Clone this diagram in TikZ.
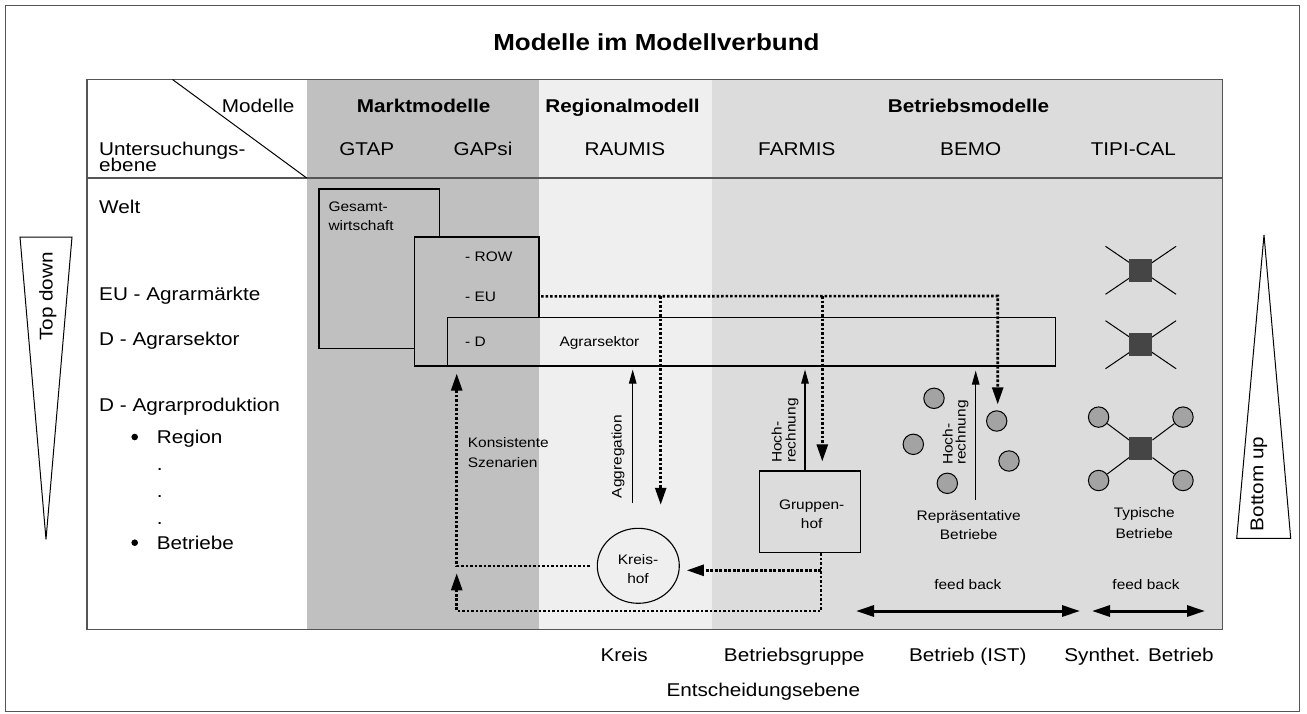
\documentclass[tikz,border=0pt]{standalone}
\usepackage{fontspec}
\setmainfont{Liberation Sans}[FakeStretch=1.12]
\usetikzlibrary{arrows.meta,shapes.geometric,calc}
\definecolor{mgray}{HTML}{C0C0C0}
\definecolor{lgray}{HTML}{EFEFEF}
\definecolor{bgray}{HTML}{DCDCDC}
\definecolor{dgray}{HTML}{454545}
\definecolor{cgray}{HTML}{A3A3A3}
\definecolor{fgray}{HTML}{555555}
\begin{document}
\begin{tikzpicture}[x=1pt,y=-1pt,
  lab/.style={inner sep=0pt, font=\fontsize{18.5}{18}\selectfont},
  sml/.style={inner sep=0pt, font=\fontsize{13.8}{16}\selectfont},
  hdr/.style={inner sep=0pt, font=\fontsize{18.5}{18}\selectfont\bfseries},
  ttl/.style={inner sep=0pt, font=\fontsize{23.2}{26}\selectfont\bfseries},
  mbox/.style={draw=black, line width=1.2pt, inner sep=0pt, rectangle},
  dotline/.style={line width=2.6pt, dash pattern=on 2.6pt off 1.9pt},
  dotarrow/.style={dotline, -{Triangle[length=17pt,width=11pt]}},
  solarrow/.style={line width=1.1pt, -{Triangle[length=14pt,width=7.5pt]}},
  fbarrow/.style={line width=3pt, {Triangle[length=18pt,width=11pt]}-{Triangle[length=18pt,width=11pt]}},
  farm/.style={circle, draw=black, line width=1pt, fill=cgray, minimum size=20.4pt, inner sep=0pt},
  sq/.style={rectangle, fill=dgray, minimum size=23pt, inner sep=0pt},
  thin/.style={line width=1pt}
]
\useasboundingbox (0,0) rectangle (1307,713);
% outer frame
\draw[line width=1.2pt, fgray] (5.5,5.5) rectangle (1299.5,711.5);
% table background
\fill[mgray] (306.7,79.5) rectangle (539,629.5);
\fill[lgray] (539,79.5) rectangle (711.7,629.5);
\fill[bgray] (711.7,79.5) rectangle (1222.3,629.5);
\draw[line width=1.5pt, fgray] (87,79.5) rectangle (1222.3,629.5);
\draw[line width=1.5pt, fgray] (87,178) -- (1222.3,178);
\draw[thin] (172.5,79.5) -- (306.7,178);
% title and headers
\node[ttl, anchor=base] (title) at (656.4,50.7) {Modelle im Modellverbund};
\node[lab, anchor=base east] (modelle) at (294.6,112.5) {Modelle};
\node[lab, anchor=base west] (unters) at (99,155) {Untersuchungs-};
\node[lab, anchor=base west] (ebene) at (99,171) {ebene};
\node[hdr, anchor=base] (markt) at (423.7,112.5) {Marktmodelle};
\node[hdr, anchor=base] (regio) at (622.5,112.5) {Regionalmodell};
\node[hdr, anchor=base] (betr) at (968.5,112.5) {Betriebsmodelle};
\node[lab, anchor=base] (gtap) at (366.8,155.3) {GTAP};
\node[lab, anchor=base] (gapsiT) at (483,155.3) {GAPsi};
\node[lab, anchor=base] (raumis) at (624.9,155.3) {RAUMIS};
\node[lab, anchor=base] (farmis) at (796.8,155.3) {FARMIS};
\node[lab, anchor=base] (bemo) at (970.7,155.3) {BEMO};
\node[lab, anchor=base] (tipi) at (1133.4,155.3) {TIPI-CAL};
% row labels
\node[lab, anchor=base west] (welt) at (99,213.3) {Welt};
\node[lab, anchor=base west] (eum) at (99,300.7) {EU - Agrarmärkte};
\node[lab, anchor=base west] (dsek) at (99,345) {D - Agrarsektor};
\node[lab, anchor=base west] (dprod) at (99,411) {D - Agrarproduktion};
\node[circle, fill=black, minimum size=6.6pt, inner sep=0pt] (b1) at (134.7,437) {};
\node[lab, anchor=base west] (region) at (156.6,443.3) {Region};
\node[lab, anchor=base west] (p1) at (156.6,470) {.};
\node[lab, anchor=base west] (p2) at (156.6,497.3) {.};
\node[lab, anchor=base west] (p3) at (156.6,524) {.};
\node[circle, fill=black, minimum size=6.6pt, inner sep=0pt] (b2) at (134.7,542.7) {};
\node[lab, anchor=base west] (betriebe) at (156.6,549) {Betriebe};
% top down / bottom up
\draw[thin] (20,237) -- (72,237) -- (46,539.3) -- cycle;
\node[lab, rotate=90, anchor=base] (topdown) at (52.5,296.5) {Top down};
\draw[thin] (1264,235) -- (1290.7,538.3) -- (1236.7,538.3) -- cycle;
\node[lab, rotate=90, anchor=base] (bottomup) at (1263.3,484) {Bottom up};
% market model boxes
\node[mbox, fill=mgray, minimum width=120.3pt, minimum height=159.3pt] (gesamt) at (379.15,268.65) {};
\node[sml, anchor=base west] (gesT1) at (328.3,211) {Gesamt-};
\node[sml, anchor=base west] (gesT2) at (328.3,230) {wirtschaft};
\node[mbox, fill=mgray, minimum width=124.3pt, minimum height=129pt] (gapsi) at (476.85,301.5) {};
\node[sml, anchor=base west] (row) at (465,261) {- ROW};
\node[sml, anchor=base west] (eu) at (465,301) {- EU};
\fill[mgray] (447.3,317.7) rectangle (539.7,366);
\node[mbox, minimum width=608.4pt, minimum height=48.3pt] (agr) at (751.5,341.85) {};
\node[sml, anchor=base west] (dd) at (465,346) {- D};
\node[sml, anchor=base west] (agrT) at (559.3,346.5) {Agrarsektor};
% Kreishof and Gruppenhof
\node[ellipse, draw=black, line width=1.1pt, minimum width=82pt, minimum height=75pt, inner sep=0pt] (kreis) at (638.3,565.8) {};
\node[sml, anchor=base] (kT1) at (638,564) {Kreis-};
\node[sml, anchor=base] (kT2) at (638,583.3) {hof};
\node[mbox, minimum width=101.4pt, minimum height=81.7pt] (grp) at (810,511.85) {};
\node[sml, anchor=base] (gT1) at (811.7,509) {Gruppen-};
\node[sml, anchor=base] (gT2) at (811.7,528.3) {hof};
% representative farms
\node[farm] (c1) at (934,398.3) {};
\node[farm] (c2) at (996.7,421) {};
\node[farm] (c3) at (913.3,444.3) {};
\node[farm] (c4) at (1009,461) {};
\node[farm] (c5) at (947.3,483.3) {};
\node[sml, anchor=base] (repT1) at (968.7,520) {Repräsentative};
\node[sml, anchor=base] (repT2) at (968.7,539.3) {Betriebe};
% typical farms symbols
\foreach \cy/\nm in {270.3/s1, 344.7/s2} {
  \coordinate (\nm a) at (1105.5,\cy-24);
  \coordinate (\nm b) at (1176.1,\cy-24);
  \coordinate (\nm c) at (1105.5,\cy+24);
  \coordinate (\nm d) at (1176.1,\cy+24);
  \draw[thin] (\nm a) -- (\nm d) (\nm b) -- (\nm c);
  \node[sq] (\nm) at (1140.8,\cy) {};
}
\node[sq] (tsq) at (1140.8,448.8) {};
\node[farm] (tc1) at (1098.6,417.1) {};
\node[farm] (tc2) at (1183,417.1) {};
\node[farm] (tc3) at (1098.6,480.5) {};
\node[farm] (tc4) at (1183,480.5) {};
\draw[thin] (tsq) -- (tc1) (tsq) -- (tc2) (tsq) -- (tc3) (tsq) -- (tc4);
\node[sml, anchor=base] (typT1) at (1144.3,517) {Typische};
\node[sml, anchor=base] (typT2) at (1144.3,538.3) {Betriebe};
% dotted connectors (top down)
\coordinate (d1) at (660.7,296);
\coordinate (d2) at (822.3,296);
\coordinate (d3) at (997.7,296);
\draw[dotarrow, shorten >=6pt, shorten <=1.5pt] (gapsi.east |- eu) -- (d3) -- (d3 |- c2.north);
\draw[dotarrow, shorten >=23pt] (d1) -- (d1 |- kreis.north);
\draw[dotarrow, shorten >=9pt] (d2) -- (d2 |- grp.north);
% dotted connectors (bottom)
\coordinate (gb) at (821,611);
\coordinate (lb) at (456.7,611);
\coordinate (lbt) at (456.7,573.3);
\coordinate (gk) at (821,570.3);
\draw[dotarrow] (grp.south -| gb) -- (gb) -- (lb) -- (lbt);
\draw[dotarrow, shorten >=7pt] (gk) -- (kreis.east |- gk);
\draw[dotarrow, shorten <=7pt, shorten >=7pt] (kreis.west) -- (kreis.west -| lb) -- (lb |- agr.south);
\node[sml, anchor=base west] (kons1) at (467.7,447.3) {Konsistente};
\node[sml, anchor=base west] (kons2) at (467.7,467.3) {Szenarien};
% solid arrows
\coordinate (ag) at (632.7,503);
\coordinate (h1) at (805,471);
\coordinate (h2) at (975.7,500);
\draw[solarrow, shorten >=3pt] (ag) -- (ag |- agr.south);
\draw[solarrow, shorten >=3pt] (h1) -- (h1 |- agr.south);
\draw[solarrow, shorten >=4pt] (h2) -- (h2 |- agr.south);
\node[sml, rotate=90, anchor=base] (aggT) at (621.7,456.5) {Aggregation};
\node[sml, rotate=90, anchor=base west] (hr1a) at (781.7,463) {Hoch-};
\node[sml, rotate=90, anchor=base west] (hr1b) at (795.7,463) {rechnung};
\node[sml, rotate=90, anchor=base west] (hr2a) at (952.7,465) {Hoch-};
\node[sml, rotate=90, anchor=base west] (hr2b) at (965.7,465) {rechnung};
% feed back
\coordinate (f1a) at (856,611);
\coordinate (f1b) at (1080,611);
\coordinate (f2a) at (1092,611);
\coordinate (f2b) at (1205,611);
\draw[fbarrow] (f1a) -- (f1b);
\draw[fbarrow] (f2a) -- (f2b);
\node[sml, anchor=base] (fb1) at (967.8,589.3) {feed back};
\node[sml, anchor=base] (fb2) at (1146,589.3) {feed back};
% decision levels
\node[lab, anchor=base] (kreisL) at (624.2,661.7) {Kreis};
\node[lab, anchor=base] (bgL) at (794.2,661.7) {Betriebsgruppe};
\node[lab, anchor=base] (bistL) at (967.8,661.7) {Betrieb (IST)};
\node[lab, anchor=base] (synL) at (1139,661.7) {Synthet. Betrieb};
\node[lab, anchor=base] (entL) at (763.3,696.7) {Entscheidungsebene};
\end{tikzpicture}
\end{document}
